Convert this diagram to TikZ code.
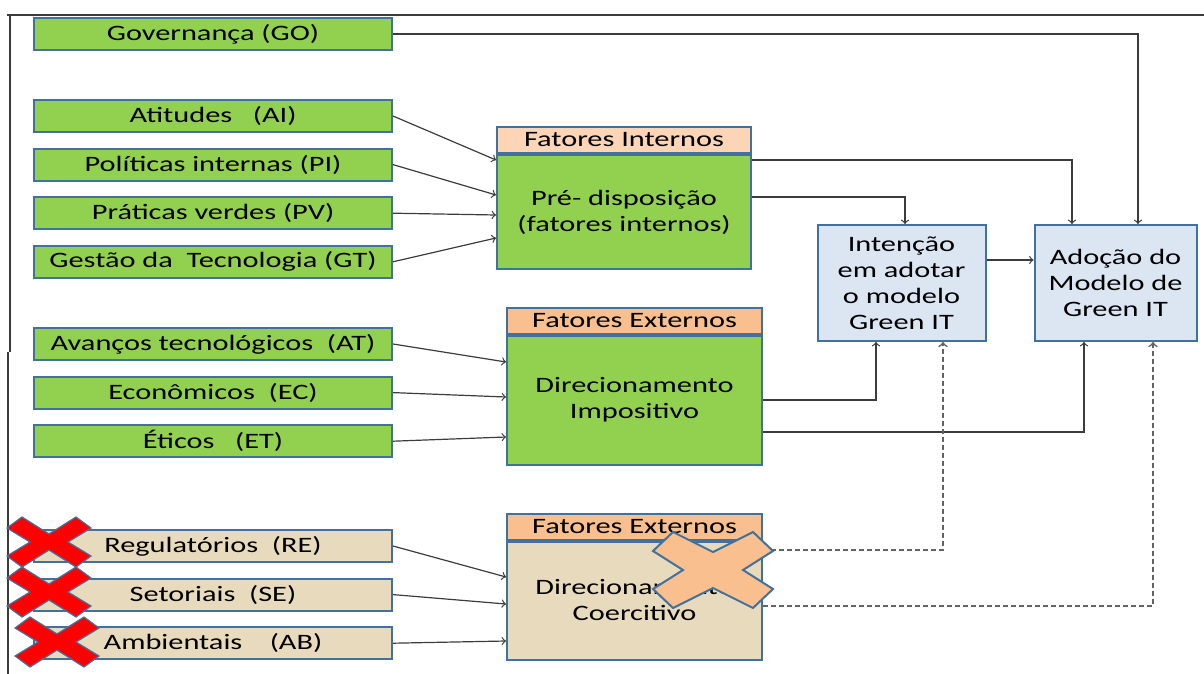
\documentclass[tikz,border=0pt]{standalone}
\usepackage{fontspec}
\setmainfont{Carlito}[FakeStretch=1.38]
\usepackage{tikz}
\usetikzlibrary{shapes,arrows,positioning}

\definecolor{verde}{HTML}{92D050}
\definecolor{borda}{HTML}{41719C}
\definecolor{pessego}{HTML}{FBD5B5}
\definecolor{laranja}{HTML}{F9BF8F}
\definecolor{bege}{HTML}{E8DBBD}
\definecolor{azulclaro}{HTML}{DCE6F2}
\definecolor{linha}{HTML}{3C3C3C}

\tikzset{
    cruz/.pic={
        \path[pic actions] (-40,-38) -- (0,-18) -- (40,-38) -- (60,-19) -- (30,0) -- (60,19)
            -- (40,38) -- (0,18) -- (-40,38) -- (-60,19) -- (-30,0) -- (-60,-19) -- cycle;
    },
    cruzvermelha/.pic={
        \path[pic actions] (-27,-25) -- (0,-8) -- (27,-25) -- (42,-14) -- (19,0) -- (42,14)
            -- (27,25) -- (0,8) -- (-27,25) -- (-42,14) -- (-19,0) -- (-42,-14) -- cycle;
    }
}

\begin{document}
\begin{tikzpicture}[
    x=0.5pt, y=-0.5pt,
    node distance=7.3pt,
    txt/.style={font=\fontsize{11}{13}\selectfont, align=center, inner sep=0pt},
    fator/.style={txt, rectangle, draw=borda, line width=1pt, fill=verde, minimum width=179pt, minimum height=16pt},
    coer/.style={fator, fill=bege},
    cab/.style={txt, rectangle, draw=borda, line width=1pt, fill=laranja, minimum height=13pt},
    bloco/.style={txt, rectangle, draw=borda, line width=1pt, fill=verde},
    meta/.style={txt, rectangle, draw=borda, line width=1pt, fill=azulclaro, minimum height=58pt},
    seta/.style={->, draw=linha, line width=0.6pt},
    tracejada/.style={->, draw=linha!80, line width=0.8pt, dash pattern=on 2.5pt off 1.5pt}
]
    \useasboundingbox (0,0) rectangle (1204,674);

    % moldura
    \draw[linha, line width=1pt] (7,15) -- (1204,15);
    \draw[linha, line width=1pt] (10,15) -- (10,352);
    \draw[linha, line width=1pt] (8,352) -- (8,674);

    % Fatores
    \node[fator] (go) at (213,34) {Governança (GO)};
    \node[fator] (ai) at (213,116) {Atitudes \ \ (AI)};
    \node[fator, below=of ai] (pi) {Políticas internas (PI)};
    \node[fator, below=of pi] (pv) {Práticas verdes (PV)};
    \node[fator, below=of pv] (gt) {Gestão da \ Tecnologia (GT)};
    \node[fator] (at) at (213,344) {Avanços tecnológicos \ (AT)};
    \node[fator, below=of at] (ec) {Econômicos \ (EC)};
    \node[fator, below=of ec] (et) {Éticos \ \ (ET)};
    \node[coer] (re) at (213,546) {Regulatórios \ (RE)};
    \node[coer, below=of re] (se) {Setoriais \ (SE)};
    \node[coer, below=of se] (ab) {Ambientais \ \ \ (AB)};

    % Blocos centrais
    \node[bloco, minimum width=127pt, minimum height=57pt] (pre) at (624,212) {Pré- disposição\\(fatores internos)};
    \node[cab, fill=pessego, minimum width=127pt, above=0pt of pre] (cabint) {Fatores Internos};
    \node[bloco, minimum width=127.5pt, minimum height=64.5pt] (dimp) at (634.5,400) {Direcionamento\\Impositivo};
    \node[cab, minimum width=127.5pt, above=0pt of dimp] (cabext1) {Fatores Externos};
    \node[bloco, fill=bege, minimum width=127.5pt, minimum height=59pt] (dcoe) at (634.5,600.5) {Direcionamento\\Coercitivo};
    \node[cab, minimum width=127.5pt, above=0pt of dcoe] (cabext2) {Fatores Externos};

    % Intencao e Adocao
    \node[meta, minimum width=84pt] (int) at (901.5,283) {Intenção\\em adotar\\o modelo\\Green IT};
    \node[meta, minimum width=81pt] (ado) at (1115.5,283) {Adoção do\\Modelo de\\Green IT};

    % Conexoes
    \draw[seta] (go.east) -| ([xshift=11.25pt]ado.north);
    \draw[seta] (ai.east) -- ([yshift=-3pt]pre.north west);
    \draw[seta] (pi.east) -- ([yshift=8.5pt]pre.west);
    \draw[seta] (pv.east) -- ([yshift=-1.5pt]pre.west);
    \draw[seta] (gt.east) -- ([yshift=-13pt]pre.west);
    \draw[seta] ([yshift=-3pt]pre.north east) -| ([xshift=-21.75pt]ado.north);
    \draw[seta] ([yshift=7.5pt]pre.east) -| ([xshift=1.75pt]int.north);
    \draw[seta] ([yshift=11.5pt]int.east) -- ([yshift=11.5pt]ado.west);
    \draw[seta] (at.east) -- ([yshift=19pt]dimp.west);
    \draw[seta] (ec.east) -- ([yshift=1.5pt]dimp.west);
    \draw[seta] (et.east) -- ([yshift=-18.5pt]dimp.west);
    \draw[seta] (dimp.east) -| ([xshift=-12.75pt]int.south);
    \draw[seta] ([yshift=-16pt]dimp.east) -| ([xshift=-15.75pt]ado.south);
    \draw[seta] (re.east) -- ([yshift=11.75pt]dcoe.west);
    \draw[seta] (se.east) -- ([yshift=-1.75pt]dcoe.west);
    \draw[seta] (ab.east) -- ([yshift=-20.25pt]dcoe.west);
    \draw[tracejada] ([yshift=25.25pt]dcoe.east) -| ([xshift=20.75pt]int.south);
    \draw[tracejada] ([yshift=-2.75pt]dcoe.east) -| ([xshift=18.75pt]ado.south);

    % Cruzes
    \pic[fill=laranja, draw=borda, line width=1pt] at (713,570) {cruz};
    \pic[fill=red, draw=borda, line width=0.6pt] at (49,542) {cruzvermelha};
    \pic[fill=red, draw=borda, line width=0.6pt] at (49,592) {cruzvermelha};
    \pic[fill=red, draw=borda, line width=0.6pt] at (57,642) {cruzvermelha};
\end{tikzpicture}
\end{document}
